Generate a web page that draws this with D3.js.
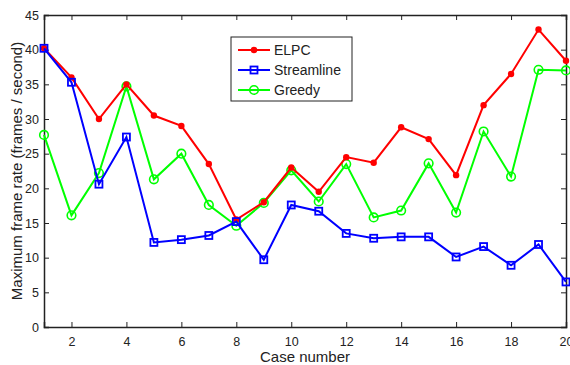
<!DOCTYPE html>
<html><head><meta charset="utf-8">
<script src="https://cdn.jsdelivr.net/npm/d3@7"></script>
<style>body{margin:0;background:#fff}svg{display:block}text{font-family:"Liberation Sans",Arial,sans-serif;fill:#222}</style>
</head><body>
<script>
const cases = d3.range(1, 21);
const elpc = [40.2,36.0,30.0,35.0,30.5,29.0,23.5,15.5,18.0,23.0,19.5,24.5,23.7,28.8,27.1,21.9,32.0,36.5,42.9,38.4];
const streamline = [40.2,35.3,20.6,27.4,12.2,12.6,13.2,15.2,9.7,17.6,16.7,13.5,12.8,13.0,13.0,10.1,11.6,8.9,11.9,6.5];
const greedy = [27.7,16.1,22.2,34.7,21.3,25.0,17.6,14.6,17.9,22.6,18.1,23.5,15.8,16.8,23.6,16.5,28.2,21.7,37.1,37.0];
const xTicks = [2,4,6,8,10,12,14,16,18,20];
const yTicks = [0,5,10,15,20,25,30,35,40,45];
const seriesNames = ["ELPC","Streamline","Greedy"];
const seriesColors = ["#ff0000","#0000ff","#00ff00"];
const seriesMarkers = ["dot","square","circle"];
const seriesData = [elpc, streamline, greedy];

const W = 570, H = 365;
const L = 44, R = 566, T = 15, B = 327;
const svg = d3.select("body").append("svg").attr("width", W).attr("height", H);
const x = d3.scaleLinear().domain([1,20]).range([L,R]);
const y = d3.scaleLinear().domain([0,45]).range([B,T]);

const ax = svg.append("g").attr("transform",`translate(0,${B})`)
  .call(d3.axisBottom(x).tickValues(xTicks).tickSize(-5).tickPadding(10).tickFormat(d3.format("d")));
const ay = svg.append("g").attr("transform",`translate(${L},0)`)
  .call(d3.axisLeft(y).tickValues(yTicks).tickSize(-5).tickPadding(5));
const axT = svg.append("g").attr("transform",`translate(0,${T})`)
  .call(d3.axisTop(x).tickValues(xTicks).tickSize(-5).tickFormat(""));
const ayR = svg.append("g").attr("transform",`translate(${R},0)`)
  .call(d3.axisRight(y).tickValues(yTicks).tickSize(-5).tickFormat(""));
[ax,ay,axT,ayR].forEach(g=>{
  g.select(".domain").attr("stroke","#222").attr("stroke-width",1.5);
  g.selectAll(".tick line").attr("stroke","#222");
  g.selectAll(".tick text").style("font-size","12.5px").attr("fill","#222").style("font-family",'"Liberation Sans",Arial,sans-serif');
});

const line = d3.line().x((d,i)=>x(cases[i])).y(d=>y(d));
function drawMarker(g, type, color, cx, cy){
  if(type==="dot") g.append("circle").attr("cx",cx).attr("cy",cy).attr("r",3.2).attr("fill",color);
  else if(type==="square") g.append("rect").attr("x",cx-3.5).attr("y",cy-3.5).attr("width",7).attr("height",7).attr("fill","none").attr("stroke",color).attr("stroke-width",1.8);
  else g.append("circle").attr("cx",cx).attr("cy",cy).attr("r",4.3).attr("fill","none").attr("stroke",color).attr("stroke-width",1.6);
}
const order = [2,0,1];
order.forEach(k=>{
  const g = svg.append("g");
  g.append("path").datum(seriesData[k]).attr("d",line).attr("fill","none").attr("stroke",seriesColors[k]).attr("stroke-width",2);
  seriesData[k].forEach((v,i)=>drawMarker(g, seriesMarkers[k], seriesColors[k], x(cases[i]), y(v)));
});

const lg = svg.append("g");
lg.append("rect").attr("x",231).attr("y",37).attr("width",121).attr("height",64).attr("fill","#fff").attr("stroke","#222").attr("stroke-width",1);
seriesNames.forEach((n,k)=>{
  const ly = 50 + k*20;
  lg.append("line").attr("x1",238).attr("x2",270).attr("y1",ly).attr("y2",ly).attr("stroke",seriesColors[k]).attr("stroke-width",2);
  drawMarker(lg, seriesMarkers[k], seriesColors[k], 254, ly);
  lg.append("text").attr("x",274).attr("y",ly+5).style("font-size","14px").text(n);
});

svg.append("text").attr("x",(L+R)/2).attr("y",362).attr("text-anchor","middle").style("font-size","15px").text("Case number");
svg.append("text").attr("transform",`translate(22,${(T+B)/2}) rotate(-90)`).attr("text-anchor","middle").style("font-size","15px").text("Maximum frame rate (frames / second)");
</script>
</body></html>
